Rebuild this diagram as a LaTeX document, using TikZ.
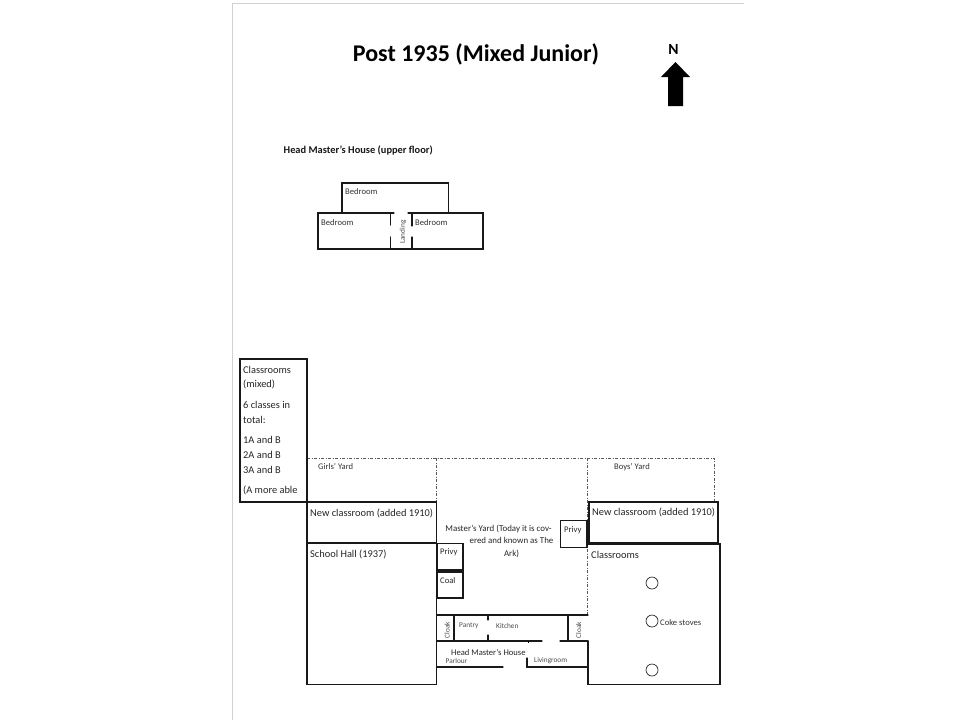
\documentclass[tikz,border=0pt]{standalone}
\usepackage{fontspec}
\setmainfont{Carlito}
\begin{document}
\begin{tikzpicture}[x=1pt,y=-1pt,
  wall/.style={draw=black!90,line width=1.25pt,line cap=round},
  edge/.style={draw=black!18,line width=1pt},
  yard/.style={draw=black!65,line width=.8pt,dash pattern=on 3pt off 1.5pt on 1pt off 1.5pt},
  stove/.style={draw=black!85,line width=.7pt},
  lab/.style={anchor=west,inner sep=0pt,font=\fontsize{10.4}{12}\selectfont,text=black!85},
  small/.style={anchor=west,inner sep=0pt,font=\fontsize{8.6}{10}\selectfont,text=black!80},
  mid/.style={anchor=west,inner sep=0pt,font=\fontsize{8.6}{10}\selectfont,text=black!85},
  tiny/.style={inner sep=0pt,font=\fontsize{7.3}{8}\selectfont,text=black!70}]
\useasboundingbox (0,0) rectangle (960,720);
\fill[white] (0,0) rectangle (960,720);
\draw[edge] (232.5,720) -- (232.5,3.5) -- (744,3.5);
% title and north arrow
\node[inner sep=0pt,font=\fontsize{24}{28}\selectfont\bfseries] (title) at (476,54) {Post 1935 (Mixed Junior)};
\node[inner sep=0pt,font=\fontsize{15.5}{18}\selectfont\bfseries] (north) at (673.5,49) {N};
\fill (675.5,62) -- (690,77) -- (683,77) -- (683,106) -- (668,106) -- (668,77) -- (661,77) -- cycle;
% upper floor
\node[anchor=west,inner sep=0pt,font=\fontsize{10.4}{12}\selectfont\bfseries,text=black!90] (upper) at (283.5,150) {Head Master’s House (upper floor)};
\draw[wall] (342,213) -- (342,183) -- (448.5,183) -- (448.5,213);
\draw[wall] (394,213) -- (318,213) -- (318,249) -- (483,249) -- (483,213) -- (408,213);
\draw[wall] (390.5,213) -- (390.5,225) (390.5,237) -- (390.5,249);
\draw[wall] (412,213) -- (412,226) (412,237) -- (412,249);
\node[small] (bed1) at (345,192) {Bedroom};
\node[small] (bed2) at (321,222.5) {Bedroom};
\node[small] (bed3) at (415,222.5) {Bedroom};
\node[tiny,rotate=90] (landing) at (403,232) {Landing};
% yards
\draw[yard] (307,458) -- (714.5,458) -- (714.5,502);
\draw[yard] (436.5,458) -- (436.5,502);
\draw[yard] (587.5,458) -- (587.5,615);
\node[small] (girls) at (318,466.5) {Girls’ Yard};
\node[small] (boys) at (614,467.5) {Boys’ Yard};
% west block
\draw[wall] (240,359) rectangle (307,502);
\draw[wall] (307,502) rectangle (436.5,543);
\draw[wall] (307,543.5) rectangle (436.5,684.5);
\node[lab] at (243,369.5) {Classrooms};
\node[lab] at (243,384.5) {(mixed)};
\node[lab] at (243,405) {6 classes in};
\node[lab] at (243,420) {total:};
\node[lab] at (243,440) {1A and B};
\node[lab] at (243,455) {2A and B};
\node[lab] at (243,470) {3A and B};
\node[lab] at (243,490.5) {(A more able};
\node[lab] (newW) at (310,513) {New classroom (added 1910)};
\node[lab] (hall) at (310,554) {School Hall (1937)};
% master's yard
\draw[wall] (436.5,543) -- (436.5,615) -- (588,615);
\draw[wall] (437.5,543.5) rectangle (463,570);
\draw[wall] (437.5,572) rectangle (463,598);
\draw[wall] (560.5,520.5) rectangle (587,547.5);
\node[mid] (privyW) at (440,552) {Privy};
\node[mid] (coal) at (440,581) {Coal};
\node[mid] (privyE) at (564,530) {Privy};
\node[inner sep=0pt,align=center,font=\fontsize{8.9}{12.5}\selectfont,text=black!85] (yardtext) at (498.5,541)
  {Master’s Yard (Today it is cov-\\\hspace*{26pt}ered and known as The\\\hspace*{26pt}Ark)};
% east block
\draw[wall] (589,502) rectangle (718,543);
\draw[wall] (588,544) -- (720,544) -- (720,684.5) -- (588,684.5) -- (588,641);
\node[lab] (newE) at (592,512) {New classroom (added 1910)};
\node[lab] (classE) at (591,554.5) {Classrooms};
\draw[stove] (652,583) circle (6);
\draw[stove] (652,621) circle (6);
\draw[stove] (652,670) circle (6);
\node[small] (coke) at (660,623) {Coke stoves};
% head master's house
\draw[wall] (454,615) -- (454,641);
\draw[wall] (488,615) -- (488,620) (488,635) -- (488,641);
\draw[wall] (568,615) -- (568,641);
\draw[wall] (542,641) -- (436.5,641);
\draw[wall] (560,641) -- (588,641);
\draw[line width=1pt] (528,641) -- (528,643);
\draw[wall] (436.5,667) -- (503,667);
\draw[wall] (527,658) -- (527,667) -- (588,667);
\node[tiny,rotate=90] (cloakW) at (447,630) {Cloak};
\node[tiny,rotate=90] (cloakE) at (578.5,630) {Cloak};
\node[tiny,anchor=west] (pantry) at (459,625.5) {Pantry};
\node[tiny,anchor=west] (kitchen) at (496,625.5) {Kitchen};
\node[mid] (hmh) at (451,652.5) {Head Master’s House};
\node[tiny,anchor=west] (parlour) at (445.5,661) {Parlour};
\node[tiny,anchor=west] (living) at (534,660.5) {Livingroom};
\end{tikzpicture}
\end{document}
